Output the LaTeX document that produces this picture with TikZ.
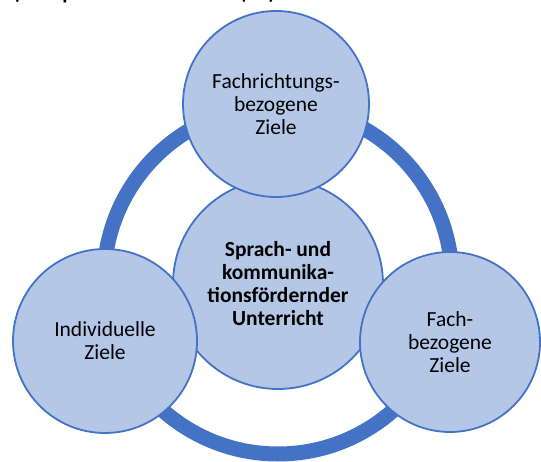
\documentclass[tikz,border=0pt]{standalone}
\usepackage{fontspec}
\setmainfont{Carlito}
\definecolor{ringblue}{RGB}{68,114,196}
\definecolor{discfill}{RGB}{180,199,231}
\begin{document}
\begin{tikzpicture}[x=1pt,y=1pt,yscale=-1,xscale=1,
  disc/.style={circle,draw=ringblue,fill=discfill,line width=1.8,inner sep=0pt,align=center,
    font=\fontsize{21.5}{23}\selectfont}]
\useasboundingbox (0,0) rectangle (541,462);

%Text: heading (cut off at the top edge)
\node[anchor=base west,inner sep=0pt,font=\fontsize{21.5}{23}\selectfont\bfseries] (heading) at (6,0) {c) Hauptziele des Modells (C1)};

%Shape: Ring
\draw[ringblue,line width=15] (278,280) circle (174);

%Shape: Circle (middle)
\node[disc,minimum size=210,font=\fontsize{21.5}{23}\selectfont\bfseries] (unterricht) at (278,284) {Sprach- und\\kommunika-\\tionsfördernder\\Unterricht};

%Shape: Circle (top)
\node[disc,minimum size=186] (fachrichtung) at (276,104) {Fachrichtungs-\\bezogene\\Ziele};

%Shape: Circle (left)
\node[disc,minimum size=184] (individuell) at (105,341) {Individuelle\\Ziele};

%Shape: Circle (right)
\node[disc,minimum size=180] (fach) at (450,342) {Fach-\\bezogene\\Ziele};

\end{tikzpicture}
\end{document}
